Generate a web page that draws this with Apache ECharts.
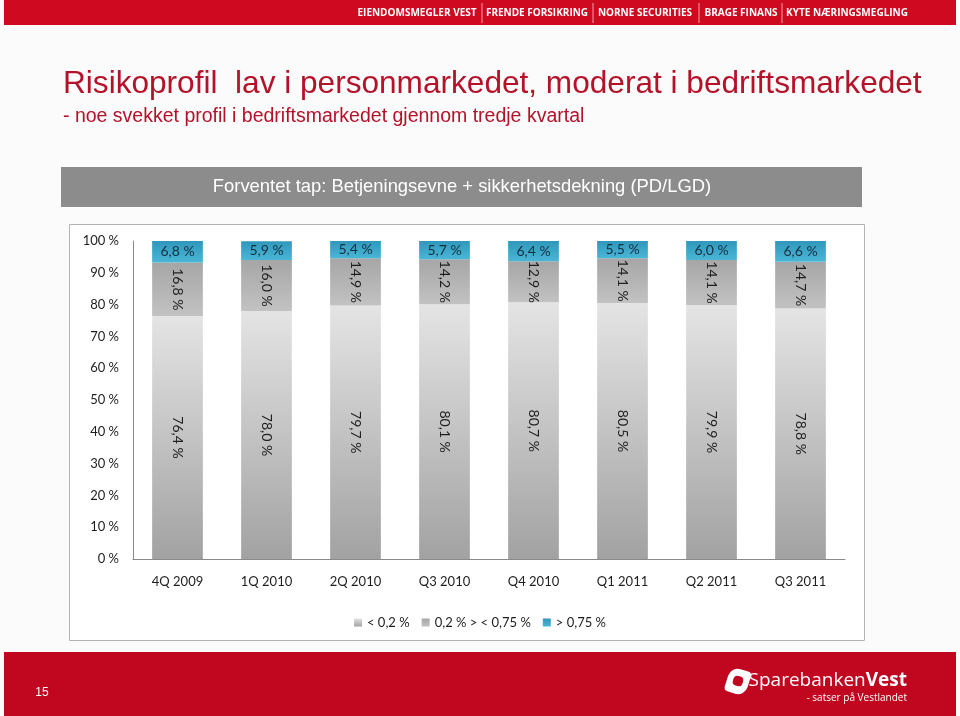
<!DOCTYPE html>
<html>
<head>
<meta charset="utf-8">
<script src="https://cdn.jsdelivr.net/npm/echarts@6/dist/echarts.min.js"></script>
<style>
html,body{margin:0;padding:0;background:#fbfbfb;}
#chart{width:960px;height:716px;}
</style>
</head>
<body>
<div id="chart"></div>
<script>
const categories = ['4Q 2009','1Q 2010','2Q 2010','Q3 2010','Q4 2010','Q1 2011','Q2 2011','Q3 2011'];
const lowRisk = [76.4, 78.0, 79.7, 80.1, 80.7, 80.5, 79.9, 78.8];
const midRisk = [16.8, 16.0, 14.9, 14.2, 12.9, 14.1, 14.1, 14.7];
const highRisk = [6.8, 5.9, 5.4, 5.7, 6.4, 5.5, 6.0, 6.6];
const seriesNames = ['< 0,2 %', '0,2 % > < 0,75 %', '> 0,75 %'];
const yTicks = [0, 10, 20, 30, 40, 50, 60, 70, 80, 90, 100];
const bannerItems = ['EIENDOMSMEGLER VEST', 'FRENDE FORSIKRING', 'NORNE SECURITIES', 'BRAGE FINANS', 'KYTE NÆRINGSMEGLING'];

const chart = echarts.init(document.getElementById('chart'), null, {renderer: 'canvas'});
const LG = echarts.graphic.LinearGradient;
const fmt = v => v.toFixed(1).replace('.', ',') + ' %';
const labelFont = 'Lato, "Open Sans", sans-serif';

const bannerCenters = [417, 537, 645, 741, 847];
const bannerSeps = [482, 593, 699, 782];

const graphics = [
  {type: 'rect', shape: {x: 4, y: 0, width: 952, height: 25}, style: {fill: '#cf0a20'}, z: 0},
  {type: 'rect', shape: {x: 69.5, y: 224.5, width: 795, height: 416}, style: {fill: '#ffffff', stroke: '#b3b3b3', lineWidth: 1}, z: -1},
  {type: 'rect', shape: {x: 61, y: 167, width: 801, height: 40}, style: {fill: '#8c8c8c'}, z: 0},
  {type: 'text', x: 462, y: 187, style: {text: 'Forventet tap: Betjeningsevne + sikkerhetsdekning (PD/LGD)', fill: '#ffffff', font: '18.4px "Liberation Sans", Arial, sans-serif', align: 'center', verticalAlign: 'middle'}, z: 1},
  {type: 'text', x: 63, y: 84, style: {text: 'Risikoprofil  lav i personmarkedet, moderat i bedriftsmarkedet', fill: '#b5122a', font: '31.6px "Liberation Sans", Arial, sans-serif', verticalAlign: 'middle'}, z: 1},
  {type: 'text', x: 63, y: 117, style: {text: '- noe svekket profil i bedriftsmarkedet gjennom tredje kvartal', fill: '#b5122a', font: '19.5px "Liberation Sans", Arial, sans-serif', verticalAlign: 'middle'}, z: 1},
  {type: 'rect', shape: {x: 4, y: 652, width: 952, height: 64}, style: {fill: '#c10620'}, z: 0},
  {type: 'text', x: 42, y: 693, style: {text: '15', fill: '#ffffff', font: '12px "Liberation Sans", Arial, sans-serif', align: 'center', verticalAlign: 'middle'}, z: 1},
  {type: 'rect', shape: {x: 727, y: 669, width: 22, height: 25, r: [10, 4, 10, 4]}, style: {fill: '#ffffff'}, rotation: -0.3, originX: 738, originY: 681, z: 1},
  {type: 'rect', shape: {x: 733, y: 676, width: 10, height: 10, r: 4}, style: {fill: '#c10620'}, rotation: -0.3, originX: 738, originY: 681, z: 2},
  {type: 'text', x: 907, y: 681, style: {
    text: '{a|Sparebanken}{b|Vest}', align: 'right', verticalAlign: 'middle',
    rich: {
      a: {fill: '#ffffff', font: '19px "Open Sans", sans-serif'},
      b: {fill: '#ffffff', font: 'bold 19px "Open Sans", sans-serif'}
    }}, z: 1},
  {type: 'text', x: 907, y: 698, style: {text: '- satser på Vestlandet', fill: '#ffffff', font: '10px "Open Sans", sans-serif', align: 'right', verticalAlign: 'middle'}, z: 1}
];
bannerItems.forEach((t, i) => {
  graphics.push({type: 'text', x: bannerCenters[i], y: 13, style: {text: t, fill: '#ffffff', font: 'bold 10px "Open Sans", sans-serif', align: 'center', verticalAlign: 'middle'}, z: 1});
});
bannerSeps.forEach(x => {
  graphics.push({type: 'line', shape: {x1: x, y1: 3, x2: x, y2: 23}, style: {stroke: '#f0a0a8', lineWidth: 1}, z: 1});
});

const colLow = new LG(0, 0, 0, 1, [{offset: 0, color: '#e4e4e4'}, {offset: 1, color: '#a2a2a2'}]);
const colMid = new LG(0, 0, 0, 1, [{offset: 0, color: '#a6a6a6'}, {offset: 1, color: '#c2c2c2'}]);
const colHigh = new LG(0, 0, 0, 1, [{offset: 0, color: '#2f97bb'}, {offset: 1, color: '#4ab6d6'}]);

const baseLabel = {show: true, position: 'inside', color: '#1e1e1e', fontFamily: labelFont, fontSize: 14, formatter: p => fmt(p.value)};

chart.setOption({
  backgroundColor: '#fbfbfb',
  animation: false,
  graphic: graphics,
  grid: {left: 133, right: 115, top: 241, bottom: 157},
  legend: {
    top: 611, left: 'center',
    itemWidth: 8, itemHeight: 8, itemGap: 12, icon: 'rect',
    textStyle: {fontFamily: labelFont, fontSize: 13, color: '#1e1e1e'},
    data: seriesNames
  },
  xAxis: {
    type: 'category', data: categories,
    axisLine: {lineStyle: {color: '#8a8a8a'}},
    axisTick: {show: false},
    axisLabel: {color: '#1e1e1e', fontFamily: labelFont, fontSize: 13, margin: 16}
  },
  yAxis: {
    type: 'value', min: 0, max: 100, interval: 10,
    axisLine: {show: true, lineStyle: {color: '#8a8a8a'}},
    axisTick: {show: false},
    splitLine: {show: false},
    axisLabel: {color: '#1e1e1e', fontFamily: labelFont, fontSize: 13, margin: 14,
      formatter: v => yTicks.includes(v) ? v + ' %' : ''}
  },
  series: [
    {name: seriesNames[0], type: 'bar', stack: 'a', data: lowRisk, barWidth: '57%',
      itemStyle: {color: colLow}, label: Object.assign({}, baseLabel, {rotate: -90})},
    {name: seriesNames[1], type: 'bar', stack: 'a', data: midRisk,
      itemStyle: {color: colMid}, label: Object.assign({}, baseLabel, {rotate: -90})},
    {name: seriesNames[2], type: 'bar', stack: 'a', data: highRisk,
      itemStyle: {color: colHigh}, label: Object.assign({}, baseLabel, {color: '#14303f'})}
  ]
});
</script>
</body>
</html>
